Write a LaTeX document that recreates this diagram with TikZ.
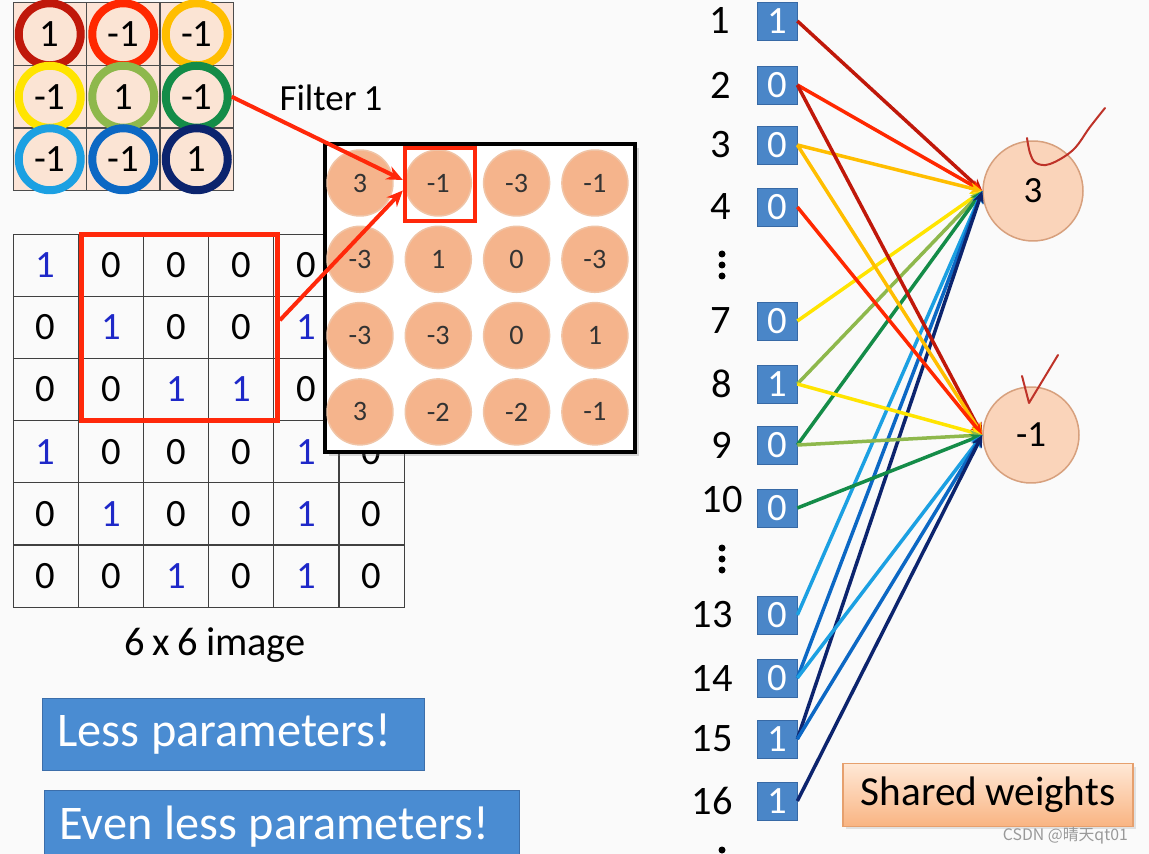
\documentclass[tikz,border=0pt]{standalone}
\usepackage{fontspec}
\setmainfont{Carlito}[WordSpace=0.85]
\newfontfamily\cjk{Noto Sans CJK SC}
\usepackage{tikz}
\usetikzlibrary{arrows.meta,positioning,fit,shadows,shadings}
\newcommand\boxtext[1]{\spaceskip=0.24em\relax\mbox{#1}}
\definecolor{pagebg}{RGB}{250,250,250}
\definecolor{filterbg}{RGB}{252,228,214}
\definecolor{ringbg}{RGB}{251,228,212}
\definecolor{wdred}{RGB}{192,24,10}
\definecolor{wred}{RGB}{255,40,0}
\definecolor{worange}{RGB}{255,190,0}
\definecolor{wyellow}{RGB}{255,228,0}
\definecolor{wlgreen}{RGB}{142,184,76}
\definecolor{wdgreen}{RGB}{20,140,72}
\definecolor{wlblue}{RGB}{28,160,226}
\definecolor{wblue}{RGB}{12,104,196}
\definecolor{wnavy}{RGB}{12,36,110}
\definecolor{oneblue}{RGB}{30,40,200}
\definecolor{winred}{RGB}{255,40,10}
\definecolor{fmfill}{RGB}{245,180,140}
\definecolor{fmedge}{RGB}{240,196,166}
\definecolor{infill}{RGB}{74,134,200}
\definecolor{inedge}{RGB}{55,105,165}
\definecolor{outfill}{RGB}{250,212,186}
\definecolor{outedge}{RGB}{215,160,125}
\definecolor{boxblue}{RGB}{74,140,210}
\definecolor{boxedge}{RGB}{60,110,170}
\definecolor{sharedtop}{RGB}{255,232,214}
\definecolor{sharedbot}{RGB}{249,180,130}
\definecolor{sharededge}{RGB}{230,160,110}
\definecolor{checkred}{RGB}{190,50,40}

\tikzset{
  fcell/.style={draw=black!70, fill=filterbg, line width=0.2mm, minimum width=14.7mm,
    minimum height=12.5mm, inner sep=0pt, outer sep=0pt},
  ring/.style={circle, draw=#1, line width=1.6mm, fill=ringbg, minimum size=12.4mm,
    inner sep=0pt, font=\fontsize{22}{24}\selectfont},
  icell/.style={draw=black!75, line width=0.2mm, minimum width=13.04mm, minimum height=12.44mm,
    inner sep=0pt, outer sep=0pt, font=\fontsize{22}{24}\selectfont},
  val/.style={},
  val0/.style={text=black},
  val1/.style={text=oneblue},
  winbox/.style={draw=winred, line width=1mm, inner sep=0pt},
  hlbox/.style={draw=winred, line width=0.8mm, inner sep=0pt},
  fmframe/.style={draw=black, line width=0.8mm, fill=white, minimum width=62mm, minimum height=61.8mm,
    drop shadow={shadow xshift=0.8mm, shadow yshift=-0.8mm, opacity=0.3}},
  fmdot/.style={circle, fill=fmfill, draw=fmedge, line width=0.3mm, minimum size=13.2mm, inner sep=0pt,
    font=\fontsize{16}{18}\selectfont, text=black!80},
  redarrow/.style={-{Stealth[length=3.2mm,width=2.8mm]}, line width=0.8mm, winred},
  inbox/.style={draw=inedge, fill=infill, text=white, minimum width=8mm, minimum height=7.6mm,
    inner sep=0pt, font=\fontsize{22}{24}\selectfont},
  inlbl/.style={font=\fontsize{23}{25}\selectfont},
  outnode/.style={circle, draw=outedge, fill=outfill, line width=0.3mm, inner sep=0pt,
    font=\fontsize{21}{23}\selectfont},
  wline/.style={-{Stealth[length=2.4mm,width=2.2mm]}, line width=0.7mm, draw=#1},
  checkmark/.style={draw=checkred, line width=0.4mm, line cap=round, line join=round},
  bluebox/.style={draw=boxedge, fill=boxblue, text=white, minimum height=14.4mm, inner xsep=3mm,
    align=left, font=\fontsize{27.5}{30}\selectfont},
  sharedbox/.style={draw=sharededge, top color=sharedtop, bottom color=sharedbot, line width=0.3mm,
    minimum width=58mm, minimum height=12.6mm, font=\fontsize{23.5}{25}\selectfont,
    drop shadow={shadow xshift=0.6mm, shadow yshift=-0.6mm, opacity=0.2}},
  dotmark/.style={fill=black}
}

\begin{document}
\begin{tikzpicture}[x=0.02cm,y=-0.02cm,>=Stealth]
  \useasboundingbox (0,0) rectangle (1149,854);
  \clip (0,0) rectangle (1149,854);
  \fill[pagebg] (0,0) rectangle (1149,854);

  % filter 1
  \foreach \r/\c in {1/1,1/2,1/3,2/1,2/2,2/3,3/1,3/2,3/3}
    \node[fcell] (fc-\r-\c) at ({13+73.5*(\c-0.5)},{3+62.5*(\r-0.5)}) {};
  \foreach \r/\c/\v/\col in {1/1/1/wdred, 1/2/-1/wred, 1/3/-1/worange,
                             2/1/-1/wyellow, 2/2/1/wlgreen, 2/3/-1/wdgreen,
                             3/1/-1/wlblue, 3/2/-1/wblue, 3/3/1/wnavy}
    \node[ring=\col] (f-\r-\c) at (fc-\r-\c) {\v};
  \node[font=\fontsize{21}{23}\selectfont] (flabel) at (331,98) {Filter 1};

  % 6 x 6 image (top right cells lie under the feature map)
  \foreach \vals [count=\r] in {{1,0,0,0,0,{}},{0,1,0,0,1,{}},{0,0,1,1,0,{}},
                                {1,0,0,0,1,0},{0,1,0,0,1,0},{0,0,1,0,1,0}}
    \foreach \v [count=\c] in \vals
      \node[icell, val\v] (img-\r-\c) at ({13+65.2*(\c-0.5)},{234+62.2*(\r-0.5)}) {\v};
  \node[winbox, fit=(img-1-2)(img-3-4), xshift=0.7mm] (win) {};
  \node[font=\fontsize{23}{25}\selectfont] (cap) at (215,645) {6 x 6 image};

  % feature map
  \node[fmframe] (fmap) at (480,298) {};
  \foreach \vals [count=\r] in {{3,-1,-3,-1},{-3,1,0,-3},{-3,-3,0,1},{3,-2,-2,-1}}
    \foreach \v [count=\c] in \vals
      \node[fmdot] (fm-\r-\c) at ({360+78.3*(\c-1)},{183+76.3*(\r-1)}) {\v};
  \node[hlbox, minimum width=14mm, minimum height=14.8mm] (hl) at ([xshift=0.3mm,yshift=-0.3mm]fm-1-2) {};

  \draw[redarrow] (f-2-3.east) -- ([yshift=0.9mm]hl.west);
  \draw[redarrow] ([yshift=1.4mm]win.east) -- ([yshift=-1.2mm]hl.west);

  % flattened input
  \foreach \k/\v/\y/\lx in {1/1/21/720, 2/0/85/721, 3/0/145/721, 4/0/207/721,
                            7/0/321/721, 8/1/384/722, 9/0/445/722, 10/0/500/722,
                            13/0/615/712, 14/0/678/712, 15/1/739/712, 16/1/801/712} {
    \node[inbox] (in-\k) at (777,{\y+(\k==10)*8}) {\v};
    \node[inlbl] (lbl-\k) at (\lx,\y) {\k};
  }
  \foreach \y in {254,265,276,548,559,570,850}
    \fill[dotmark] (722,\y) circle (0.7mm);

  % outputs
  \node[outnode, minimum size=20mm] (out-a) at (1033,191) {3};
  \node[outnode, minimum size=19.2mm] (out-b) at (1031,435) {-1};

  \foreach \k/\col in {1/wdred, 2/wred, 3/worange, 7/wyellow, 8/wlgreen, 9/wdgreen,
                       13/wlblue, 14/wblue, 15/wnavy}
    \draw[wline=\col] (in-\k.east) -- (out-a.west);
  \foreach \k/\col in {2/wdred, 3/worange, 4/wred, 8/wyellow, 9/wlgreen, 10/wdgreen,
                       14/wlblue, 15/wblue, 16/wnavy}
    \draw[wline=\col] (in-\k.east) -- (out-b.west);

  % hand-drawn ticks
  \draw[checkmark] plot[smooth, tension=0.6] coordinates
    {(1027,138) (1030,153) (1036,163) (1050,164) (1073,150) (1090,127) (1105,108)};
  \draw[checkmark] (1022,376) -- (1029,403) -- (1058,355);

  \node[sharedbox] (shared) at (988,795) {Shared weights};
  \node[font=\cjk\fontsize{9}{10}\selectfont, text=black!40, anchor=east] (mark) at (1134,836) {CSDN @晴天qt01};

  \node[bluebox, anchor=north west, text width=70.4mm] (less) at (42,698) {\boxtext{Less parameters!}};
  \node[bluebox, anchor=north west, text width=89mm] (evenless) at (44,790) {\boxtext{Even less parameters!}};
\end{tikzpicture}
\end{document}
